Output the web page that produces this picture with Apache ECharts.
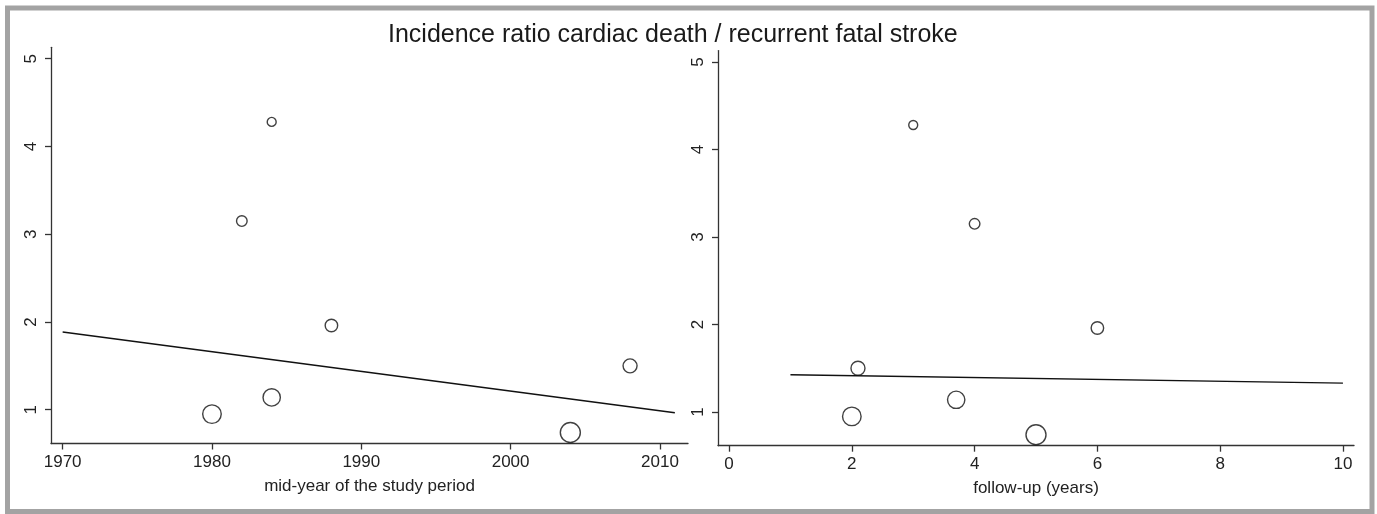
<!DOCTYPE html>
<html>
<head>
<meta charset="utf-8">
<title>Incidence ratio cardiac death / recurrent fatal stroke</title>
<script src="https://cdn.jsdelivr.net/npm/echarts@6/dist/echarts.min.js"></script>
<style>
  html, body { margin: 0; padding: 0; background: #fff; }
  #chart { width: 1377px; height: 514px; }
</style>
</head>
<body>
<div id="chart"></div>
<script>
// one entry per study
const incidenceRatio = [4.28, 3.15, 1.96, 1.50, 1.14, 0.95, 0.74]
const midYear = [1984, 1982, 1988, 2008, 1984, 1980, 2004]
const followUp = [3, 4, 6, 2.1, 3.7, 2, 5]
const studyWeight = [20, 28, 39, 49, 75, 86, 100]

// fitted meta-regression lines (start / end)
const fitYear = [[1970, 1.886], [2011, 0.966]]
const fitFollowUp = [[1, 1.426], [10, 1.33]]

const yTicks = [1, 2, 3, 4, 5]
const yearTicks = [1970, 1980, 1990, 2000, 2010]
const followTicks = [0, 2, 4, 6, 8, 10]

const FONT = '"Liberation Sans", Arial, Helvetica, sans-serif'
const AXIS_COLOR = '#333'
const TEXT_COLOR = '#222'

const bubbleSize = (v) => 2 * Math.sqrt(v[2])

const toPoints = (xs) => xs.map((x, i) => [x, incidenceRatio[i], studyWeight[i]])

const makeX = (gridIndex, min, max, ticks, name) => ({
  type: 'value',
  gridIndex,
  min,
  max,
  name,
  nameLocation: 'middle',
  nameGap: 34,
  nameTextStyle: { color: TEXT_COLOR, fontSize: 17, fontFamily: FONT },
  axisLine: { show: true, onZero: false, lineStyle: { color: AXIS_COLOR, width: 1.3 } },
  axisTick: { show: true, length: 6, customValues: ticks, lineStyle: { color: AXIS_COLOR, width: 1.3 } },
  axisLabel: {
    customValues: ticks,
    formatter: (v) => String(v),
    color: TEXT_COLOR,
    fontSize: 17,
    fontFamily: FONT,
    margin: 10
  },
  splitLine: { show: false }
})

const makeY = (gridIndex) => ({
  type: 'value',
  gridIndex,
  min: 0.615,
  max: 5.13,
  axisLine: { show: true, onZero: false, lineStyle: { color: AXIS_COLOR, width: 1.3 } },
  axisTick: { show: true, length: 6, customValues: yTicks, lineStyle: { color: AXIS_COLOR, width: 1.3 } },
  axisLabel: {
    customValues: yTicks,
    formatter: (v) => String(v),
    rotate: 90,
    color: TEXT_COLOR,
    fontSize: 17,
    fontFamily: FONT,
    margin: 11
  },
  splitLine: { show: false }
})

const bubbles = (idx, data) => ({
  type: 'scatter',
  xAxisIndex: idx,
  yAxisIndex: idx,
  data,
  symbol: 'circle',
  symbolSize: bubbleSize,
  itemStyle: { color: 'rgba(255,255,255,0)', borderColor: '#111', borderWidth: 1.4 },
  z: 3
})

const fitLine = (idx, data) => ({
  type: 'line',
  xAxisIndex: idx,
  yAxisIndex: idx,
  data,
  symbol: 'none',
  lineStyle: { color: '#111', width: 1.4 },
  z: 2
})

const chart = echarts.init(document.getElementById('chart'))

chart.setOption({
  animation: false,
  title: {
    text: 'Incidence ratio cardiac death / recurrent fatal stroke',
    left: 383,
    top: 18,
    textStyle: {
      color: '#1a1a1a',
      fontSize: 25,
      fontWeight: 'normal',
      fontFamily: '"Liberation Sans Narrow", ' + FONT
    }
  },
  graphic: [{
    type: 'rect',
    shape: { x: 7.5, y: 8, width: 1364.5, height: 503.5 },
    style: { fill: 'none', stroke: '#a3a3a3', lineWidth: 5 },
    silent: true
  }],
  grid: [
    { left: 51, top: 47.3, width: 637, height: 396.2 },
    { left: 718, top: 50.6, width: 636, height: 395.1 }
  ],
  xAxis: [
    makeX(0, 1969.22, 2011.88, yearTicks, 'mid-year of the study period'),
    makeX(1, -0.18, 10.18, followTicks, 'follow-up (years)')
  ],
  yAxis: [makeY(0), makeY(1)],
  series: [
    fitLine(0, fitYear),
    bubbles(0, toPoints(midYear)),
    fitLine(1, fitFollowUp),
    bubbles(1, toPoints(followUp))
  ]
})
</script>
</body>
</html>
